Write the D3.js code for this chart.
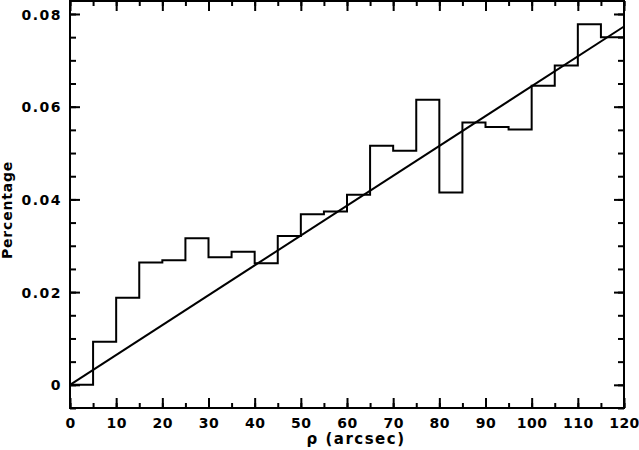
<!DOCTYPE html>
<html><head><meta charset="utf-8">
<script src="https://cdn.jsdelivr.net/npm/d3@7/dist/d3.min.js"></script>
<style>body{margin:0;background:#fff}svg{display:block}text{font-family:"DejaVu Sans",sans-serif;font-weight:bold;fill:#000}</style>
</head><body><svg id="c" width="639" height="450"></svg>
<script>
const binEdges = [0,5,10,15,20,25,30,35,40,45,50,55,60,65,70,75,80,85,90,95,100,105,110,115,120];
const binValues = [0,0.0093,0.0188,0.0264,0.0269,0.0316,0.0275,0.0287,0.0262,0.0321,0.0368,0.0374,0.0410,0.0516,0.0505,0.0615,0.0415,0.0566,0.0556,0.0551,0.0645,0.0689,0.0778,0.0750];
const fitX = [0,120];
const fitY = [0,0.0773];
const xTicks = [0,10,20,30,40,50,60,70,80,90,100,110,120];
const yTicks = [0,0.02,0.04,0.06,0.08];
const xLabel = "ρ (arcsec)";
const yLabel = "Percentage";

const L=70,R=624,T=1,B=408;
const svg=d3.select("#c");
const x=d3.scaleLinear().domain([0,120]).range([L,R]);
const y=d3.scaleLinear().domain([-0.005,0.0828]).range([B,T]);

const pts=[];
binValues.forEach((v,i)=>{pts.push([binEdges[i],v]);pts.push([binEdges[i+1],v]);});
svg.append("path").attr("d",d3.line().x(d=>x(d[0])).y(d=>y(d[1]))(pts))
  .attr("fill","none").attr("stroke","#000").attr("stroke-width",2);
svg.append("path").attr("d",d3.line().x(d=>x(d[0])).y(d=>y(d[1]))(fitX.map((v,i)=>[v,fitY[i]])))
  .attr("fill","none").attr("stroke","#000").attr("stroke-width",2);

const xMinor=d3.range(0,121,5), yMinor=d3.range(-0.005,0.0826,0.005);
const g=svg.append("g");
function ax(mk,scale,tr,major,minor,len,mlen,fmt){
  const a1=g.append("g").attr("transform",tr).call(mk(scale).tickValues(minor).tickSize(mlen).tickFormat(""));
  a1.select(".domain").remove();
  a1.selectAll("line").attr("stroke-width",2);
  const a2=g.append("g").attr("transform",tr).call(mk(scale).tickValues(major).tickSize(len).tickFormat(fmt));
  a2.select(".domain").remove();
  a2.selectAll("line").attr("stroke-width",2);
  a2.attr("font-family",null).attr("font-size",null);
  return a2;
}
const bx=ax(d3.axisBottom,x,`translate(0,${B})`,xTicks,xMinor,-10,-5,d3.format("d"));
bx.selectAll("text").attr("y",20).attr("dy",0).style("font-size","14px").style("letter-spacing","0.5px");
const tx=ax(d3.axisTop,x,`translate(0,${T})`,xTicks,xMinor,-10,-5,()=>"");
const ly=ax(d3.axisLeft,y,`translate(${L},0)`,yTicks,yMinor,-10,-6,d=>d===0?"0":d3.format(".2f")(d));
ly.selectAll("text").attr("x",-8).attr("dy","0.36em").style("font-size","14px").style("letter-spacing","1.5px");
const ry=ax(d3.axisRight,y,`translate(${R},0)`,yTicks,yMinor,-10,-6,()=>"");
g.append("rect").attr("x",L).attr("y",T).attr("width",R-L).attr("height",B-T)
  .attr("fill","none").attr("stroke","#000").attr("stroke-width",2);

svg.append("text").attr("x",356).attr("y",444).attr("text-anchor","middle")
  .style("font-size","15px").style("letter-spacing","1.5px").text(xLabel);
svg.append("text").attr("transform","translate(12,210) rotate(-90)").attr("text-anchor","middle")
  .style("font-size","14px").style("letter-spacing","0.8px").text(yLabel);
</script></body></html>
